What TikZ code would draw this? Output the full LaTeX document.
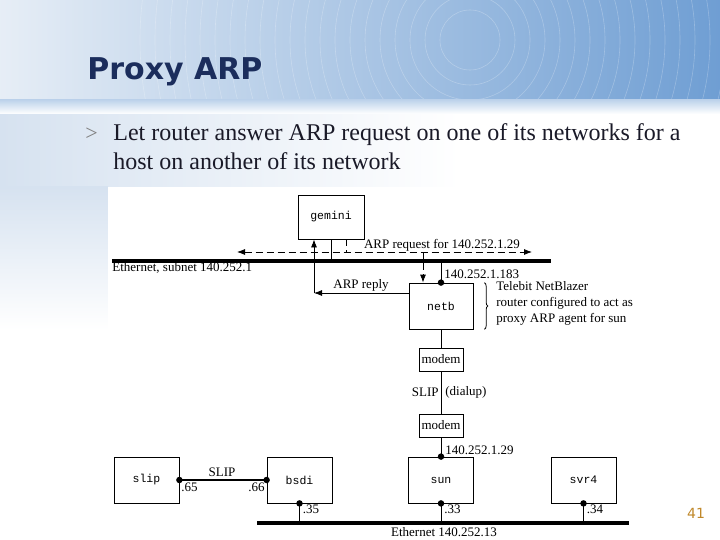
\documentclass[tikz,border=0pt]{standalone}
\usepackage{fontspec}
\setmainfont{Liberation Serif}
\setmonofont{Liberation Mono}
\newfontfamily\headfont{DejaVu Sans}
\usetikzlibrary{arrows.meta}
\usetikzlibrary{decorations.pathreplacing}
\definecolor{titleblue}{HTML}{1B2D5C}
\definecolor{bandblue}{HTML}{6F9ED3}
\definecolor{paleblue}{HTML}{D6E2F0}
\definecolor{pagegold}{HTML}{C0882A}
\definecolor{inkblack}{HTML}{1A1A28}
\tikzset{host/.style={draw, line width=0.8pt, minimum width=65pt, minimum height=46pt,
  inner sep=0pt, font=\ttfamily\fontsize{11.5}{12}\selectfont}}
\tikzset{modembox/.style={draw, line width=0.8pt, minimum width=44pt, minimum height=23pt,
  inner sep=0pt, font=\fontsize{13}{13}\selectfont}}
\tikzset{ether/.style={line width=3.5pt}}
\tikzset{dot/.style={circle, fill, inner sep=0pt, minimum size=6.5pt}}
\tikzset{lbl/.style={inner sep=0pt, font=\fontsize{13}{16}\selectfont}}
\tikzset{>={Latex[length=8pt,width=6pt]}}

\begin{document}
\begin{tikzpicture}[x=1pt, y=-1pt, line width=0.8pt]
  \useasboundingbox (0,0) rectangle (720,540);
  % slide background
  \fill[white] (0,0) rectangle (720,540);
  \shade[left color=paleblue!60, right color=bandblue] (0,0) rectangle (720,100);
  \begin{scope}
    \clip (0,0) rectangle (720,100);
    \foreach \r in {30,45,...,330}
      \draw[white, opacity=0.25, line width=0.6pt] (470,40) circle [radius=\r];
  \end{scope}
  \shade[left color=paleblue, middle color=paleblue!40, right color=white] (0,100) rectangle (460,187);
  \shade[top color=bandblue!45, bottom color=white] (0,100) rectangle (720,114);
  \shade[top color=paleblue, bottom color=white] (0,187) rectangle (108,330);
  \fill[white] (108,187) rectangle (648,540);

  \node[anchor=base west, inner sep=0pt, text=titleblue,
    font=\headfont\bfseries\fontsize{30}{30}\selectfont] (title) at (87,80) {Proxy ARP};
  \node[anchor=base west, inner sep=0pt, text=gray, font=\fontsize{22}{22}\selectfont]
    (bullet) at (85,141) {>};
  \node[anchor=base west, inner sep=0pt, text=inkblack, font=\fontsize{24}{24}\selectfont]
    (bulletA) at (113,141) {Let router answer ARP request on one of its networks for a};
  \node[anchor=base west, inner sep=0pt, text=inkblack, font=\fontsize{24}{24}\selectfont]
    (bulletB) at (113,170) {host on another of its network};

  % hosts
  \node[host, minimum width=66pt, minimum height=44pt] (gemini) at (331,217) {gemini};
  \node[host, minimum width=64pt] (netb) at (441,306) {netb};
  \node[modembox] (modemA) at (441,359.5) {modem};
  \node[modembox] (modemB) at (441,425.5) {modem};
  \node[host] (sun) at (441,480) {sun};
  \node[host] (slip) at (146.5,480) {slip};
  \node[host] (bsdi) at (299.5,480) {bsdi};
  \node[host] (svr4) at (583.5,480) {svr4};

  % ethernets
  \coordinate (etherAw) at (112,261);
  \coordinate (etherAe) at (551,261);
  \coordinate (etherBw) at (257,523);
  \coordinate (etherBe) at (629,523);
  \draw[ether] (etherAw) -- (etherAe);
  \draw[ether] (etherBw) -- (etherBe);
  \node[lbl, anchor=west] (etherAlbl) at (112,268) {Ethernet, subnet 140.252.1};
  \node[lbl] (etherBlbl) at (444,532) {Ethernet 140.252.13};

  \draw (gemini.south) -- (gemini.south |- etherAw);
  \draw (netb.north) -- (netb.north |- etherAw);
  \node[dot] (netbdot) at (netb.north) {};
  \node[lbl, anchor=west] (netbaddr) at (444,274) {140.252.1.183};
  \draw (netb.south) -- (modemA.north);
  \draw (modemA.south) -- (modemB.north);
  \draw (modemB.south) -- (sun.north);
  \node[dot] (sundot) at (sun.north) {};
  \node[lbl, anchor=east] (dialA) at (439,392) {SLIP};
  \node[lbl, anchor=west] (dialB) at (445,392) {(dialup)};
  \node[lbl, anchor=west] (sunaddr) at (445,450) {140.252.1.29};

  % ARP request and reply
  \coordinate (reqW) at (237,252);
  \coordinate (reqE) at (532,252);
  \draw[dash pattern=on 7pt off 4pt, <->] (reqW) -- (reqE);
  \coordinate (reqTick) at ([xshift=15pt]gemini.south);
  \draw[dash pattern=on 7pt off 4pt] (reqTick) -- (reqTick |- reqW);
  \coordinate (reqDrop) at ([xshift=-18pt]netb.north);
  \draw[dash pattern=on 7pt off 4pt, ->] (reqDrop |- reqW) -- (reqDrop);
  \node[lbl] (reqlbl) at (442,245) {ARP request for 140.252.1.29};
  \coordinate (replyTurn) at (314,293);
  \draw[->] (netb.west |- replyTurn) -- (replyTurn);
  \draw[->] (replyTurn) -- (replyTurn |- gemini.south);
  \node[lbl] (replylbl) at (361,285) {ARP reply};

  \draw[decorate, decoration={brace, amplitude=3.5pt}]
    ([xshift=11pt]netb.north east) -- ([xshift=11pt]netb.south east);
  \node[lbl, anchor=west, align=left] (netbnote) at (496,303)
    {Telebit NetBlazer\\router configured to act as\\proxy ARP agent for sun};

  % SLIP link
  \draw[line width=2.5pt] (slip.east) -- (bsdi.west);
  \node[dot] (slipdot) at (slip.east) {};
  \node[dot] (bsdidot) at (bsdi.west) {};
  \node[lbl] (sliplbl) at (222,472) {SLIP};
  \node[lbl, anchor=west] (slipaddr) at (181,487) {.65};
  \node[lbl, anchor=east] (bsdiaddr) at (265,487) {.66};

  \foreach \h/\a in {bsdi/.35, sun/.33, svr4/.34} {
    \draw (\h.south) -- (\h.south |- etherBw);
    \node[dot] (\h-dot) at (\h.south) {};
    \node[lbl, anchor=west] (\h-low) at ([xshift=3pt, yshift=-6pt]\h.south) {\a};
  }

  \node[text=pagegold, font=\headfont\fontsize{14}{14}\selectfont] (pagenum) at (696,513) {41};
\end{tikzpicture}
\end{document}
